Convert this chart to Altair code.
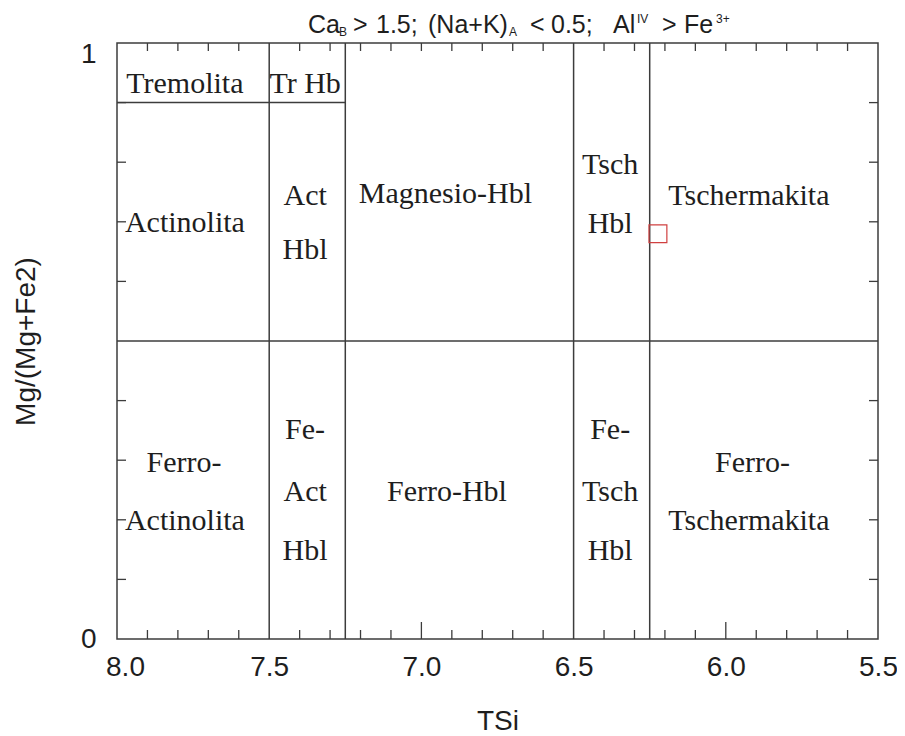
import altair as alt
import pandas as pd

# ---- data ----
# boundary segments (TSi, Mg/(Mg+Fe2))
seg_x1 = [7.5, 7.25, 6.5, 6.25, 8.0, 8.0]
seg_x2 = [7.5, 7.25, 6.5, 6.25, 5.5, 7.25]
seg_y1 = [0.0, 0.0, 0.0, 0.0, 0.5, 0.9]
seg_y2 = [1.0, 1.0, 1.0, 1.0, 0.5, 0.9]

# field names
label_text = ["Tremolita", "Tr Hb", "Actinolita", "Act", "Hbl", "Magnesio-Hbl",
              "Tsch", "Hbl", "Tschermakita",
              "Ferro-", "Actinolita", "Fe-", "Act", "Hbl", "Ferro-Hbl",
              "Fe-", "Tsch", "Hbl", "Ferro-", "Tschermakita"]
label_x = [7.777, 7.382, 7.777, 7.382, 7.382, 6.921,
           6.380, 6.380, 5.924,
           7.780, 7.777, 7.382, 7.382, 7.382, 6.916,
           6.380, 6.380, 6.380, 5.912, 5.924]
label_y = [0.931, 0.931, 0.698, 0.743, 0.653, 0.747,
           0.795, 0.696, 0.743,
           0.296, 0.198, 0.351, 0.247, 0.148, 0.247,
           0.351, 0.247, 0.148, 0.296, 0.198]

# sample point
pt_x = [6.223]
pt_y = [0.680]

# axis tick values
x_tick_labels = [8.0, 7.5, 7.0, 6.5, 6.0, 5.5]
y_tick_labels = [0, 1]
x_minor = [7.9, 7.8, 7.7, 7.6, 7.4, 7.3, 7.2, 7.1, 6.9, 6.8, 6.7, 6.6,
           6.4, 6.3, 6.2, 6.1, 5.9, 5.8, 5.7, 5.6]
x_major = [7.0, 6.0]
x_top = [7.9, 7.8, 7.7, 7.6, 7.4, 7.3, 7.2, 7.1, 7.0, 6.9, 6.8, 6.7, 6.6,
         6.4, 6.3, 6.2, 6.1, 6.0, 5.9, 5.8, 5.7, 5.6]
y_minor = [0.1, 0.2, 0.3, 0.4, 0.6, 0.7, 0.8, 0.9]

W, H = 761, 596
LINE = "#3c3c3c"
TXT = "#1e1e1e"
SANS = "Liberation Sans"
SERIF = "Liberation Serif"

xscale = alt.Scale(domain=[5.5, 8.0], reverse=True, nice=False, zero=False)
yscale = alt.Scale(domain=[0, 1], nice=False, zero=False)

segs = pd.DataFrame({"x1": seg_x1, "x2": seg_x2, "y1": seg_y1, "y2": seg_y2})
labels = pd.DataFrame({"t": label_text, "x": label_x, "y": label_y})
pts = pd.DataFrame({"x": pt_x, "y": pt_y})

x_axis = alt.Axis(values=x_tick_labels, format=".1f", ticks=False, domain=False, grid=False,
                  labelFlush=False,
                  labelFont=SANS, labelFontSize=28, labelColor=TXT, labelPadding=14,
                  labelOffset={"condition": {"test": "datum.value == 8", "value": 8}, "value": 0},
                  title="TSi", titleFont=SANS, titleFontSize=28, titleFontWeight="normal",
                  titleColor=TXT, titlePadding=26)
y_axis = alt.Axis(values=y_tick_labels, format="d", ticks=False, domain=False, grid=False,
                  labelFlush=False,
                  labelFont=SANS, labelFontSize=28, labelColor=TXT, labelPadding=21,
                  labelOffset={"condition": {"test": "datum.value == 1", "value": 11}, "value": 0},
                  title="Mg/(Mg+Fe2)", titleFont=SANS, titleFontSize=28, titleFontWeight="normal",
                  titleColor=TXT, titlePadding=40)


def X(field):
    return alt.X(field, scale=xscale, axis=x_axis)


def Y(field):
    return alt.Y(field, scale=yscale, axis=y_axis)


lines = alt.Chart(segs).mark_rule(color=LINE, strokeWidth=1.5).encode(
    x=X("x1:Q"), x2="x2:Q", y=Y("y1:Q"), y2="y2:Q",
)


def vticks(vals, y0, y1):
    return alt.Chart(pd.DataFrame({"x1": vals})).mark_rule(color=LINE, strokeWidth=1.3).encode(
        x=X("x1:Q"), y=alt.value(y0), y2=alt.value(y1))


def hticks(vals, x0, x1):
    return alt.Chart(pd.DataFrame({"y1": vals})).mark_rule(color=LINE, strokeWidth=1.3).encode(
        y=Y("y1:Q"), x=alt.value(x0), x2=alt.value(x1))


ticks = [
    vticks(x_minor, H, H - 9),
    vticks(x_major, H, H - 17),
    vticks(x_top, 0, 8),
    hticks(y_minor, 0, 9),
    hticks(y_minor, W, W - 9),
]

text = alt.Chart(labels).mark_text(font=SERIF, fontSize=30, color=TXT,
                                   align="center", baseline="middle").encode(
    x=X("x:Q"), y=Y("y:Q"), text="t:N",
)

point = alt.Chart(pts).mark_point(shape="square", filled=False, size=320,
                                  color="#d04040", strokeWidth=1.2, opacity=1).encode(
    x=X("x:Q"), y=Y("y:Q"),
)

# title pieces: (text, left x on page, baseline y on page, font size)
ORX, ORY = 117, 43
title_pieces = [
    ("Ca", 308, 33, 25), ("B", 339, 36, 12),
    (">", 353, 33, 25), ("1.5;", 376, 33, 25), ("(Na+K)", 428, 33, 25), ("A", 509, 36, 12),
    ("<", 530, 33, 25), ("0.5;", 551, 33, 25), ("Al", 613, 33, 25), ("IV", 637, 23, 12),
    (">", 662, 33, 25), ("Fe", 684, 33, 25), ("3+", 716, 23, 12),
]
one = pd.DataFrame({"a": [0]})
title_layers = []
for t, px, py, fs in title_pieces:
    title_layers.append(
        alt.Chart(one).mark_text(text=t, font=SANS, fontSize=fs, color=TXT,
                                 align="left", baseline="alphabetic").encode(
            x=alt.value(px - ORX), y=alt.value(py - ORY))
    )

chart = alt.layer(lines, *ticks, text, point, *title_layers).properties(
    width=W, height=H,
    autosize=alt.AutoSizeParams(type="none"),
    padding={"left": 109, "top": 35, "right": 19, "bottom": 95},
    background="white",
).configure_view(stroke=LINE, strokeWidth=1.5)

chart.save("out.html", embed_options={"renderer": "svg", "actions": False})
